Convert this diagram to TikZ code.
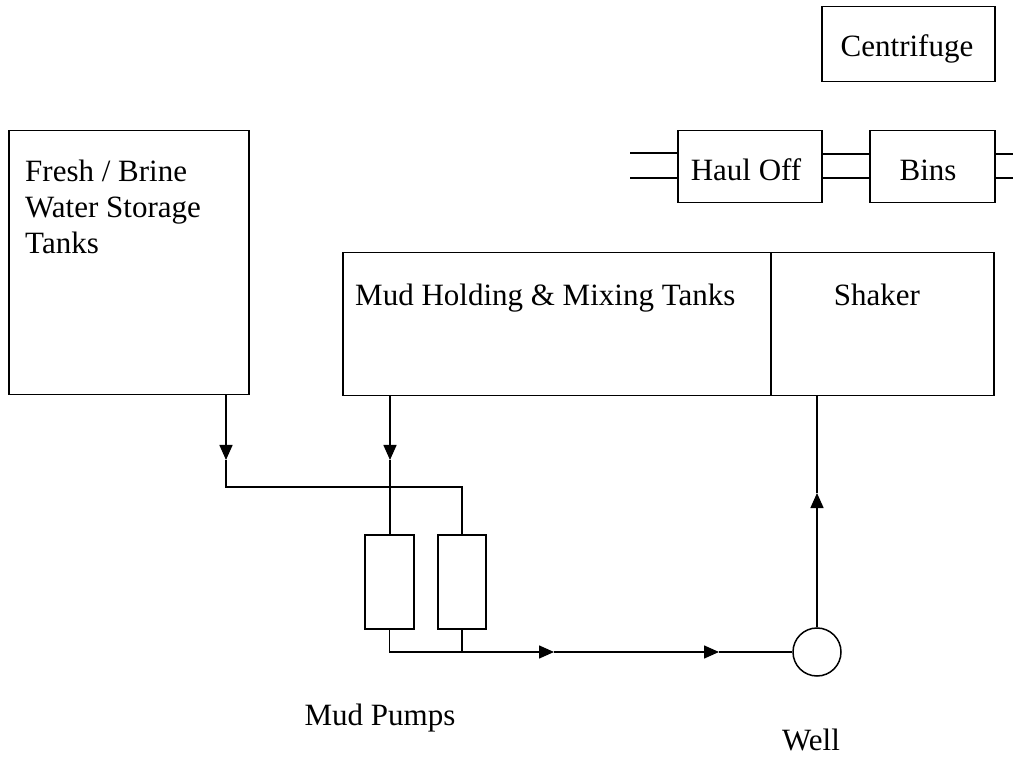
\documentclass[tikz,border=0pt]{standalone}
\usepackage{fontspec}
\setmainfont{Liberation Serif}
\usetikzlibrary{arrows.meta}
\begin{document}
\begin{tikzpicture}[x=1pt,y=-1pt,
  box/.style={draw, line width=1.5pt, inner sep=0pt, anchor=north west},
  lbl/.style={inner sep=0pt, anchor=base west, font=\fontsize{31}{36}\selectfont},
  lblc/.style={inner sep=0pt, anchor=base, font=\fontsize{31}{36}\selectfont},
  pipe/.style={line width=1.5pt},
  flow/.style={line width=1.5pt, -{Triangle[length=15pt,width=13pt]}},
]
\useasboundingbox (0,0) rectangle (1013,759);
% boxes
\node[box, minimum width=240pt, minimum height=264pt] (fresh) at (8,130) {};
\node[box, minimum width=428pt, minimum height=143pt] (mud) at (342,252) {};
\node[box, minimum width=223pt, minimum height=143pt] (shaker) at (770,252) {};
\node[box, minimum width=173pt, minimum height=75pt] (centrifuge) at (821,6) {};
\node[box, minimum width=144pt, minimum height=72pt] (haul) at (677,130) {};
\node[box, minimum width=125pt, minimum height=72pt] (bins) at (869,130) {};
\node[box, minimum width=49pt, minimum height=94pt] (pump1) at (364,534) {};
\node[box, minimum width=48pt, minimum height=94pt] (pump2) at (437,534) {};
\node[draw, line width=1.5pt, circle, minimum size=48pt, inner sep=0pt] (well) at (817,652) {};
% labels
\node[lbl] (tfresh1) at (25,182) {Fresh / Brine};
\node[lbl] (tfresh2) at (25,218) {Water Storage};
\node[lbl] (tfresh3) at (25,254) {Tanks};
\node[lbl] (tmud) at (355,306) {Mud Holding \& Mixing Tanks};
\node[lblc] (tshaker) at (877,306) {Shaker};
\node[lblc] (tcentrifuge) at (907,57) {Centrifuge};
\node[lblc] (thaul) at (746,181) {Haul Off};
\node[lblc] (tbins) at (928,181) {Bins};
\node[lblc] (tpumps) at (380,725) {Mud Pumps};
\node[lblc] (twell) at (811,750) {Well};
% junction / arrow coordinates
\coordinate (fa) at (226,460);
\coordinate (fj) at (226,487);
\coordinate (ma) at (390,460);
\coordinate (b1) at (554,652);
\coordinate (b2) at (719,652);
\coordinate (w1) at (817,493);
% supply lines
\draw[flow] (fresh.south -| fa) -- (fa);
\draw[pipe] (fa) -- (fj) -- (fj -| pump2.north) -- (pump2.north);
\draw[flow] (mud.south -| ma) -- (ma);
\draw[pipe] (ma) -- (ma |- pump1.north);
% discharge
\draw[pipe] (pump1.south) -- (pump1.south |- well.west);
\draw[pipe] (pump2.south) -- (pump2.south |- well.west);
\draw[flow] (pump1.south |- well.west) -- (b1);
\draw[flow] (b1) -- (b2);
\draw[pipe] (b2) -- (well.west);
% return
\draw[flow] (well.north) -- (w1);
\draw[pipe] (w1) -- (w1 |- shaker.south);
% haul off / bins lines
\coordinate (hl1) at (630,153);
\coordinate (hl2) at (630,178);
\coordinate (hr1) at (1013,154);
\coordinate (hr2) at (1013,178);
\draw[pipe] (hl1) -- (hl1 -| haul.west);
\draw[pipe] (hl2) -- (hl2 -| haul.west);
\draw[pipe] (haul.east |- hr1) -- (bins.west |- hr1);
\draw[pipe] (haul.east |- hr2) -- (bins.west |- hr2);
\draw[pipe] (bins.east |- hr1) -- (hr1);
\draw[pipe] (bins.east |- hr2) -- (hr2);
\end{tikzpicture}
\end{document}
